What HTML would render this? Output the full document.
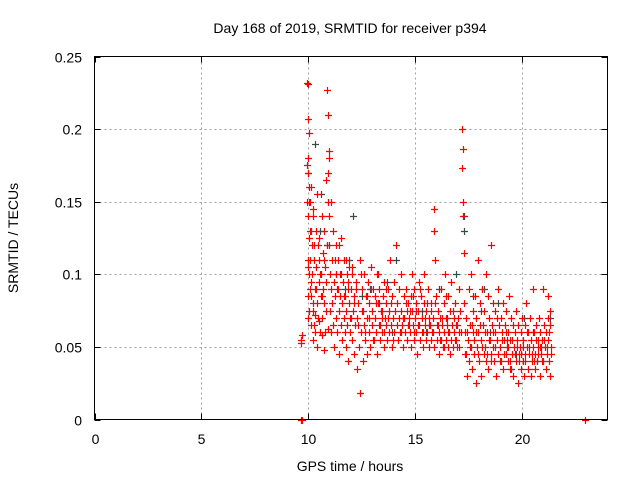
<!DOCTYPE html>
<html><head><meta charset="utf-8"><style>
body{margin:0;background:#fff;}
svg{display:block;font-family:"Liberation Sans",sans-serif;}
</style></head><body>
<svg id="chart" width="640" height="480" viewBox="0 0 640 480">
<text x="350" y="33" font-size="14" text-anchor="middle" fill="#000">Day 168 of 2019, SRMTID for receiver p394</text>
<text x="350" y="471" font-size="14" text-anchor="middle">GPS time / hours</text>
<text transform="translate(18,238) rotate(-90)" font-size="14" text-anchor="middle">SRMTID / TECUs</text>
<g id="grid"></g>
<g id="ticks"></g>
<g id="gray"></g>
<g id="red"></g>
<rect x="94.5" y="56.5" width="513" height="363" fill="none" stroke="#000" stroke-width="1"/>
</svg>
<script>
const xTicks=[0,5,10,15,20];
const yTicks=[0,0.05,0.1,0.15,0.2,0.25];
const yTickLabels=["0","0.05","0.1","0.15","0.2","0.25"];
const redEarly=[[9.65,0.055],[9.68,0.053],[9.7,0.058],[9.66,0.0],[9.72,0.0],[22.95,0.0],
[9.95,0.232],[9.97,0.231],[10.0,0.207],[10.02,0.197],[9.98,0.18],[9.96,0.175],[10.0,0.17],[10.03,0.16],[9.95,0.15],[9.97,0.14],[10.05,0.125],[10.0,0.11],[9.98,0.105],[10.04,0.1],[10.06,0.09],[9.99,0.085],[10.01,0.07],[10.08,0.15],[10.1,0.13],[10.12,0.095],[10.15,0.16],[10.18,0.12],[10.2,0.08],[10.22,0.14],[10.25,0.065],[10.1,0.11],[10.13,0.085],[10.17,0.1],[10.21,0.145],[10.24,0.075],[10.28,0.12],[10.3,0.09],[10.33,0.06],[10.35,0.13],[10.38,0.105],[10.4,0.08],[10.42,0.155],[10.45,0.07],[10.48,0.11],[10.5,0.095],[10.52,0.125],[10.55,0.06],[10.58,0.1],[10.6,0.085],[10.62,0.14],[10.65,0.07],[10.68,0.115],[10.7,0.09],[10.72,0.08],[10.75,0.13],[10.78,0.06],[10.8,0.105],[10.82,0.095],[10.85,0.165],[10.88,0.12],[10.9,0.227],[10.92,0.21],[10.95,0.185],[10.97,0.18],[10.93,0.17],[10.91,0.15],[10.96,0.14],[10.98,0.12],[10.05,0.15],[10.15,0.13],[10.25,0.11],[10.35,0.09],[10.45,0.12],[10.55,0.1],[10.65,0.085],[10.75,0.11],[10.02,0.075],[10.12,0.065],[10.22,0.055],[10.32,0.072],[10.42,0.05],[10.52,0.068],[10.62,0.058],[10.72,0.048],[10.82,0.075],[10.92,0.062]];
const redMid=[[11.0,0.1],[11.02,0.075],[11.05,0.09],[11.08,0.06],[11.1,0.11],[11.12,0.08],[11.15,0.13],[11.18,0.065],[11.2,0.095],[11.22,0.05],[11.25,0.085],[11.28,0.12],[11.3,0.07],[11.32,0.1],[11.35,0.06],[11.38,0.09],[11.4,0.11],[11.42,0.075],[11.45,0.045],[11.48,0.085],[11.5,0.1],[11.52,0.065],[11.55,0.125],[11.58,0.08],[11.6,0.055],[11.62,0.095],[11.65,0.07],[11.68,0.11],[11.7,0.06],[11.72,0.085],[11.75,0.05],[11.78,0.075],[11.8,0.1],[11.82,0.065],[11.85,0.09],[11.88,0.04],[11.9,0.08],[11.92,0.105],[11.95,0.06],[11.98,0.07],
[12.0,0.09],[12.03,0.055],[12.06,0.1],[12.1,0.075],[12.13,0.045],[12.16,0.085],[12.2,0.065],[12.23,0.095],[12.26,0.035],[12.3,0.07],[12.33,0.08],[12.36,0.05],[12.4,0.11],[12.43,0.018],[12.46,0.06],[12.5,0.09],[12.53,0.075],[12.56,0.04],[12.6,0.1],[12.63,0.065],[12.66,0.055],[12.7,0.085],[12.73,0.07],[12.76,0.045],[12.8,0.095],[12.83,0.06],[12.86,0.08],[12.9,0.05],[12.93,0.105],[12.96,0.065],
[13.0,0.075],[13.03,0.09],[13.06,0.055],[13.1,0.07],[13.13,0.085],[13.16,0.06],[13.2,0.1],[13.23,0.045],[13.26,0.08],[13.3,0.065],[13.33,0.09],[13.36,0.055],[13.4,0.075],[13.43,0.07],[13.46,0.06],[13.5,0.085],[13.53,0.05],[13.56,0.095],[13.6,0.07],[13.63,0.065],[13.66,0.08],[13.7,0.055],[13.73,0.09],[13.76,0.06],[13.8,0.075],[13.83,0.11],[13.86,0.065],[13.9,0.05],[13.93,0.085],[13.96,0.07],
[14.0,0.06],[14.03,0.095],[14.06,0.075],[14.1,0.12],[14.13,0.065],[14.16,0.08],[14.2,0.055],[14.23,0.09],[14.26,0.07],[14.3,0.06],[14.33,0.1],[14.36,0.075],[14.4,0.065],[14.43,0.05],[14.46,0.085],[14.5,0.07],[14.53,0.06],[14.56,0.09],[14.6,0.075],[14.63,0.055],[14.66,0.08],[14.7,0.065],[14.73,0.07],[14.76,0.06],[14.8,0.085],[14.83,0.05],[14.86,0.075],[14.9,0.065],[14.93,0.09],[14.96,0.055],
[11.05,0.15],[11.15,0.13],[11.25,0.11],[11.35,0.09],[11.45,0.12],[11.55,0.1],[11.65,0.085],[11.75,0.11],[11.85,0.095],[11.95,0.07],[12.05,0.105],[12.15,0.08],[12.25,0.09],[12.35,0.065],[12.45,0.1],[12.55,0.075],[12.65,0.06],[12.75,0.085],[12.85,0.07],[12.95,0.09],[13.05,0.055],[13.15,0.08],[13.25,0.1],[13.35,0.065],[13.45,0.075],[13.55,0.06],[13.65,0.09],[13.75,0.07],[13.85,0.08],[13.95,0.055],[14.05,0.075],[14.15,0.065],[14.25,0.09],[14.35,0.06],[14.45,0.07],[14.55,0.08],[14.65,0.065],[14.75,0.075],[14.85,0.1],[14.95,0.06]];
const redLate=[[15.0,0.07],[15.03,0.08],[15.06,0.06],[15.1,0.045],[15.13,0.075],[15.16,0.095],[15.2,0.065],[15.23,0.055],[15.26,0.085],[15.3,0.07],[15.33,0.06],[15.36,0.05],[15.4,0.08],[15.43,0.1],[15.46,0.065],[15.5,0.055],[15.53,0.075],[15.56,0.06],[15.6,0.09],[15.63,0.05],[15.66,0.07],[15.7,0.065],[15.73,0.055],[15.76,0.08],[15.8,0.06],[15.83,0.07],[15.86,0.05],[15.88,0.145],[15.9,0.13],[15.92,0.11],[15.96,0.085],[16.0,0.065],[16.03,0.055],[16.06,0.075],[16.1,0.06],[16.13,0.045],[16.16,0.07],[16.2,0.09],[16.23,0.055],[16.26,0.065],[16.3,0.05],[16.33,0.08],[16.36,0.06],[16.4,0.1],[16.43,0.07],[16.46,0.055],[16.5,0.065],[16.53,0.085],[16.56,0.05],[16.6,0.06],[16.63,0.075],[16.66,0.055],[16.7,0.095],[16.73,0.065],[16.76,0.05],[16.8,0.07],[16.83,0.06],[16.86,0.08],[16.9,0.055],[16.93,0.065],[16.96,0.05],[17.0,0.07],[17.03,0.06],[17.06,0.09],[17.1,0.075],
[17.2,0.2],[17.22,0.186],[17.21,0.173],[17.23,0.15],[17.25,0.14],[17.27,0.115],[17.3,0.08],[17.33,0.06],[17.36,0.045],[17.4,0.07],[17.43,0.03],[17.46,0.055],[17.5,0.09],[17.53,0.04],[17.56,0.065],[17.6,0.05],[17.63,0.1],[17.66,0.035],[17.7,0.075],[17.73,0.06],[17.76,0.045],[17.8,0.085],[17.83,0.025],[17.86,0.07],[17.9,0.05],[17.93,0.11],[17.96,0.06],
[18.0,0.04],[18.03,0.08],[18.06,0.055],[18.1,0.03],[18.13,0.09],[18.16,0.065],[18.2,0.045],[18.23,0.075],[18.26,0.05],[18.3,0.1],[18.33,0.04],[18.36,0.06],[18.4,0.085],[18.43,0.035],[18.46,0.07],[18.5,0.055],[18.53,0.045],[18.56,0.12],[18.6,0.065],[18.63,0.05],[18.66,0.08],[18.7,0.04],[18.73,0.06],[18.76,0.075],[18.8,0.03],[18.83,0.055],[18.86,0.09],[18.9,0.045],[18.93,0.065],[18.96,0.05],
[19.0,0.07],[19.03,0.04],[19.06,0.06],[19.1,0.08],[19.13,0.035],[19.16,0.055],[19.2,0.065],[19.23,0.045],[19.26,0.075],[19.3,0.05],[19.33,0.04],[19.36,0.06],[19.4,0.085],[19.43,0.035],[19.46,0.055],[19.5,0.07],[19.53,0.045],[19.56,0.03],[19.6,0.065],[19.63,0.05],[19.66,0.06],[19.7,0.04],[19.73,0.075],[19.76,0.055],[19.8,0.025],[19.83,0.065],[19.86,0.045],[19.9,0.05],[19.93,0.035],[19.96,0.06],
[20.0,0.07],[20.03,0.04],[20.06,0.055],[20.1,0.03],[20.13,0.065],[20.16,0.045],[20.2,0.08],[20.23,0.05],[20.26,0.035],[20.3,0.06],[20.33,0.045],[20.36,0.07],[20.4,0.03],[20.43,0.055],[20.46,0.04],[20.5,0.09],[20.53,0.05],[20.56,0.06],[20.6,0.035],[20.63,0.045],[20.66,0.065],[20.7,0.04],[20.73,0.055],[20.76,0.05],[20.8,0.07],[20.83,0.03],[20.86,0.06],[20.9,0.045],[20.93,0.055],[20.96,0.09],
[21.0,0.04],[21.03,0.065],[21.06,0.05],[21.1,0.035],[21.13,0.06],[21.16,0.045],[21.2,0.07],[21.23,0.055],[21.26,0.04],[21.3,0.065],[21.33,0.03],[21.36,0.05],[21.38,0.045],[21.2,0.085],[21.3,0.075],
[15.05,0.075],[15.15,0.065],[15.25,0.09],[15.35,0.06],[15.45,0.07],[15.55,0.08],[15.65,0.065],[15.75,0.075],[15.85,0.06],[15.95,0.08],[16.05,0.065],[16.15,0.055],[16.25,0.07],[16.35,0.05],[16.45,0.085],[16.55,0.06],[16.65,0.045],[16.75,0.075],[16.85,0.055],[16.95,0.065],[17.05,0.05],[17.15,0.06],[17.35,0.045],[17.45,0.06],[17.55,0.05],[17.65,0.065],[17.75,0.055],[17.85,0.06],[17.95,0.045],[18.05,0.065],[18.15,0.05],[18.25,0.06],[18.35,0.045],[18.45,0.055],[18.55,0.04],[18.65,0.06],[18.75,0.05],[18.85,0.07],[18.95,0.04],[19.05,0.055],[19.15,0.045],[19.25,0.06],[19.35,0.05],[19.45,0.04],[19.55,0.055],[19.65,0.045],[19.75,0.05],[19.85,0.04],[19.95,0.045],[20.05,0.05],[20.15,0.04],[20.25,0.06],[20.35,0.05],[20.45,0.045],[20.55,0.04],[20.65,0.055],[20.75,0.045],[20.85,0.05],[20.95,0.04],[21.05,0.055],[21.15,0.05],[21.25,0.06],[21.35,0.045]];
const grayPoints=[[9.98,0.17],[10.3,0.19],[10.55,0.13],[10.9,0.12],[11.3,0.1],[11.7,0.09],[12.1,0.14],[12.5,0.085],[12.9,0.09],[13.3,0.08],[13.7,0.095],[14.1,0.11],[14.5,0.07],[14.9,0.085],[15.3,0.075],[15.7,0.065],[16.1,0.09],[16.5,0.07],[16.9,0.1],[17.3,0.14],[17.7,0.085],[18.1,0.075],[18.5,0.06],[18.9,0.08],[19.3,0.055],[19.7,0.045],[20.1,0.07],[20.5,0.06],[20.9,0.05],[21.3,0.07],[10.6,0.155],[11.9,0.11],[13.9,0.06],[15.5,0.06],[17.3,0.13],[18.2,0.09],[19.5,0.035],[20.7,0.04]];
const NS="http://www.w3.org/2000/svg";
const L=94.5,R=607.5,T=56.5,B=419.5,XMAX=24,YMAX=0.25;
function xs(t){return L+(R-L)*t/XMAX;}
function ys(v){return B-(B-T)*v/YMAX;}
const grid=document.getElementById('grid'),ticks=document.getElementById('ticks');
function line(p,x1,y1,x2,y2,st,dash){const l=document.createElementNS(NS,'line');l.setAttribute('x1',x1);l.setAttribute('y1',y1);l.setAttribute('x2',x2);l.setAttribute('y2',y2);l.setAttribute('stroke',st);if(dash)l.setAttribute('stroke-dasharray',dash);p.appendChild(l);return l;}
function txt(p,x,y,s,anchor){const t=document.createElementNS(NS,'text');t.setAttribute('x',x);t.setAttribute('y',y);t.setAttribute('font-size','14');t.setAttribute('text-anchor',anchor);t.textContent=s;p.appendChild(t);return t;}
xTicks.forEach(v=>{const x=Math.round(xs(v))+0.5;
 if(v>0){const g=line(grid,x,B,x,T,'#a0a0a0','2,3');
 
 }
 line(ticks,x,B,x,B-6,'#000');line(ticks,x,T,x,T+6,'#000');
 const t=txt(ticks,x,444,String(v),'middle');
 
 });
yTicks.forEach((v,i)=>{const y=Math.round(ys(v))+0.5;
 if(v>0&&v<YMAX){const g=line(grid,L,y,R,y,'#a0a0a0','2,3');
 
 }
 line(ticks,L,y,L+6,y,'#000');line(ticks,R,y,R-6,y,'#000');
 const t=txt(ticks,82,y+5,yTickLabels[i],'end');
 
 });
function plot(gid,pts,col){const g=document.getElementById(gid);let d='';
 pts.forEach(p=>{const x=Math.round(xs(p[0]))+0.5,y=Math.round(ys(p[1]))+0.5;d+=`M${x-3.5} ${y}H${x+3.5}M${x} ${y-3.5}V${y+3.5}`;});
 const p=document.createElementNS(NS,'path');p.setAttribute('d',d);p.setAttribute('stroke',col);p.setAttribute('stroke-width','1.2');p.setAttribute('fill','none');
 
 
 g.appendChild(p);}
plot('gray',grayPoints,'#3a4a4a');
plot('red',redEarly.concat(redMid,redLate),'#ff0000');
</script>
</body></html>
